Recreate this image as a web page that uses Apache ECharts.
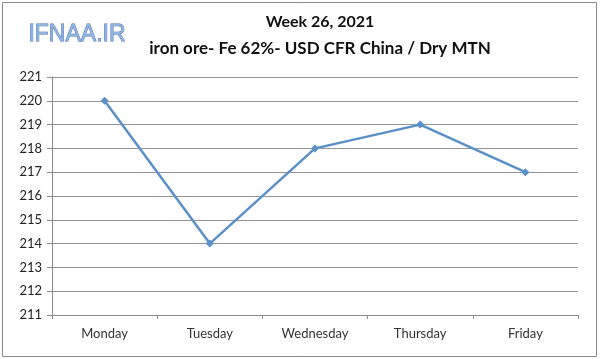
<!DOCTYPE html>
<html><head><meta charset="utf-8">
<script src="https://cdn.jsdelivr.net/npm/echarts@6/dist/echarts.min.js"></script>
<style>html,body{margin:0;padding:0;background:#fff}#c{width:600px;height:359px}</style>
</head><body><div id="c"></div>
<script>
const titleText = "Week 26, 2021";
const subtitleText = "iron ore- Fe 62%- USD CFR China / Dry MTN";
const logoText = "IFNAA.IR";
const categories = ["Monday", "Tuesday", "Wednesday", "Thursday", "Friday"];
const prices = [220, 214, 218, 219, 217];
const yMin = 211, yMax = 221, yStep = 1;

const chart = echarts.init(document.getElementById('c'));
chart.setOption({
  animation: false,
  backgroundColor: '#fff',
  title: [
    { text: titleText, left: 315, top: 9, textAlign: 'center',
      textStyle: { fontFamily: 'Lato', fontWeight: 'bold', fontSize: 16, color: '#111' } },
    { text: subtitleText, left: 315, top: 35, textAlign: 'center',
      textStyle: { fontFamily: 'Lato', fontWeight: 'bold', fontSize: 17, color: '#111' } }
  ],
  graphic: [
    { type: 'rect', shape: { x: 2.5, y: 2.5, width: 594, height: 354 },
      style: { fill: 'none', stroke: '#8c8c8c', lineWidth: 1 }, silent: true },
    { type: 'text', left: 28, top: 23,
      style: { text: logoText, fontFamily: 'Liberation Sans', fontSize: 23, fill: '#8fb4e3',
               stroke: '#4a6fa5', lineWidth: 0.8 } }
  ],
  grid: { left: 52, right: 22, top: 77, bottom: 44 },
  xAxis: {
    type: 'category', data: categories, boundaryGap: true,
    axisLine: { lineStyle: { color: '#8c8c8c', width: 1 } },
    axisTick: { show: true, length: 4, lineStyle: { color: '#8c8c8c' } },
    axisLabel: { fontFamily: 'Lato', fontSize: 13, color: '#333', margin: 12 }
  },
  yAxis: {
    type: 'value', min: yMin, max: yMax, interval: yStep,
    axisLine: { show: true, lineStyle: { color: '#8c8c8c', width: 1 } },
    axisTick: { show: true, length: 5, lineStyle: { color: '#8c8c8c' } },
    axisLabel: { fontFamily: 'Lato', fontSize: 13, color: '#222', margin: 10 },
    splitLine: { lineStyle: { color: '#959595', width: 1 } }
  },
  series: [{
    type: 'line', data: prices,
    symbol: 'diamond', symbolSize: 8,
    lineStyle: { color: '#5b8fc7', width: 2.5 },
    itemStyle: { color: '#5b8fc7' }
  }]
});
</script></body></html>
